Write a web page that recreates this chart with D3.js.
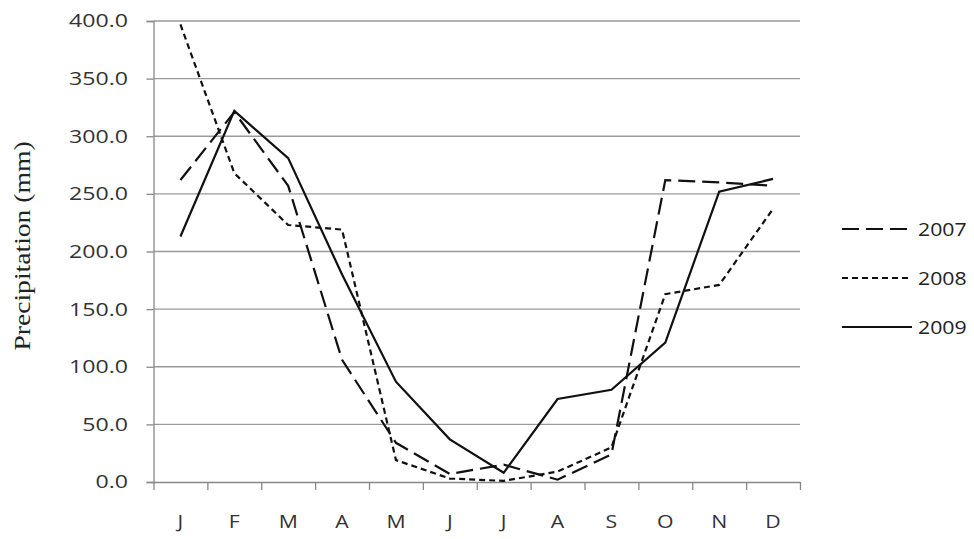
<!DOCTYPE html>
<html>
<head>
<meta charset="utf-8">
<script src="https://cdn.jsdelivr.net/npm/d3@7"></script>
<style>
	body { margin: 0; background: #fff; }
	svg { display: block; }
	.tick text { fill: #333; }
</style>
</head>
<body>
<svg width="974" height="539"></svg>
<script>
const months = ["J", "F", "M", "A", "M ", "J ", "J  ", "A ", "S", "O", "N", "D"];
const monthLabels = ["J", "F", "M", "A", "M", "J", "J", "A", "S", "O", "N", "D"];
const yTicks = [0, 50, 100, 150, 200, 250, 300, 350, 400];

const rain2007 = [262, 321, 257, 106, 34, 7, 15, 2, 24, 262, 260, 257];
const rain2008 = [397, 268, 223, 219, 19, 3, 1, 9, 30, 163, 171, 237];
const rain2009 = [213, 322, 281, 180, 87, 37, 8, 72, 80, 121, 252, 263];

const series = [
	{ name: "2007", values: rain2007, dash: "17,7" },
	{ name: "2008", values: rain2008, dash: "6,4" },
	{ name: "2009", values: rain2009, dash: null }
];

const svg = d3.select("svg");
const margin = { top: 21, left: 153.5 };
const width = 646.5, height = 461;

const g = svg.append("g")
	.attr("transform", `translate(${margin.left},${margin.top})`);

const x = d3.scaleBand(months, [0, width]);
const xEdge = d3.scaleLinear([0, 12], [0, width]);
const y = d3.scaleLinear([0, 400], [height, 0]);

// gridlines
g.append("g")
	.selectAll("line")
	.data(yTicks.filter(d => d > 0))
	.join("line")
	.attr("x1", 0)
	.attr("x2", width)
	.attr("y1", d => y(d))
	.attr("y2", d => y(d))
	.attr("stroke", "#9a9a9a")
	.attr("stroke-width", 1.3);

// y axis
const sy = 1.25;
const gY = g.append("g")
	.call(d3.axisLeft(y).tickValues(yTicks).tickFormat(d3.format(".1f")).tickSize(7));
gY.select(".domain").attr("stroke", "#888").attr("stroke-width", 1.3);
gY.selectAll(".tick line").attr("stroke", "#888").attr("stroke-width", 1.3);
gY.selectAll(".tick text")
	.attr("font-family", "Open Sans, sans-serif")
	.attr("font-size", 18.5)
	.attr("x", -25.5 / sy)
	.attr("transform", `scale(${sy},1)`);

// x axis edge ticks
const gX = g.append("g")
	.attr("transform", `translate(0,${height})`)
	.call(d3.axisBottom(xEdge).tickValues(d3.range(13)).tickFormat("").tickSize(8).tickSizeOuter(0));
gX.select(".domain").attr("stroke", "#888").attr("stroke-width", 1.3);
gX.selectAll(".tick line").attr("stroke", "#888").attr("stroke-width", 1.3);

// x axis labels
const gXL = g.append("g")
	.attr("transform", `translate(0,${height})`)
	.call(d3.axisBottom(x).tickSize(0).tickPadding(33).tickFormat((d, i) => monthLabels[i]));
gXL.select(".domain").remove();
gXL.selectAll(".tick text")
	.attr("font-family", "Open Sans, sans-serif")
	.attr("font-size", 18.5)
	.attr("transform", "scale(1.15,1)");

// y label
svg.append("text")
	.attr("transform", `translate(30,246) rotate(-90) scale(1.2,1)`)
	.attr("text-anchor", "middle")
	.attr("font-family", "Liberation Serif, serif")
	.attr("font-size", 23)
	.attr("fill", "#222")
	.text("Precipitation (mm)");

// lines
const line = d3.line()
	.x((d, i) => x(months[i]) + x.bandwidth() / 2)
	.y(d => y(d));

g.append("g")
	.selectAll("path")
	.data(series)
	.join("path")
	.attr("fill", "none")
	.attr("stroke", "#111")
	.attr("stroke-width", 2.2)
	.attr("stroke-dasharray", d => d.dash)
	.attr("d", d => line(d.values));

// legend
const legend = svg.append("g")
	.selectAll("g")
	.data(series)
	.join("g")
	.attr("transform", (d, i) => `translate(842,${229 + i * 49})`);

legend.append("line")
	.attr("x1", 0)
	.attr("x2", 70)
	.attr("stroke", "#111")
	.attr("stroke-width", 2.2)
	.attr("stroke-dasharray", d => d.dash);

legend.append("text")
	.attr("x", 76 / 1.12)
	.attr("dy", "0.35em")
	.attr("transform", "scale(1.12,1)")
	.attr("font-family", "Open Sans, sans-serif")
	.attr("font-size", 19)
	.attr("fill", "#222")
	.text(d => d.name);
</script>
</body>
</html>
